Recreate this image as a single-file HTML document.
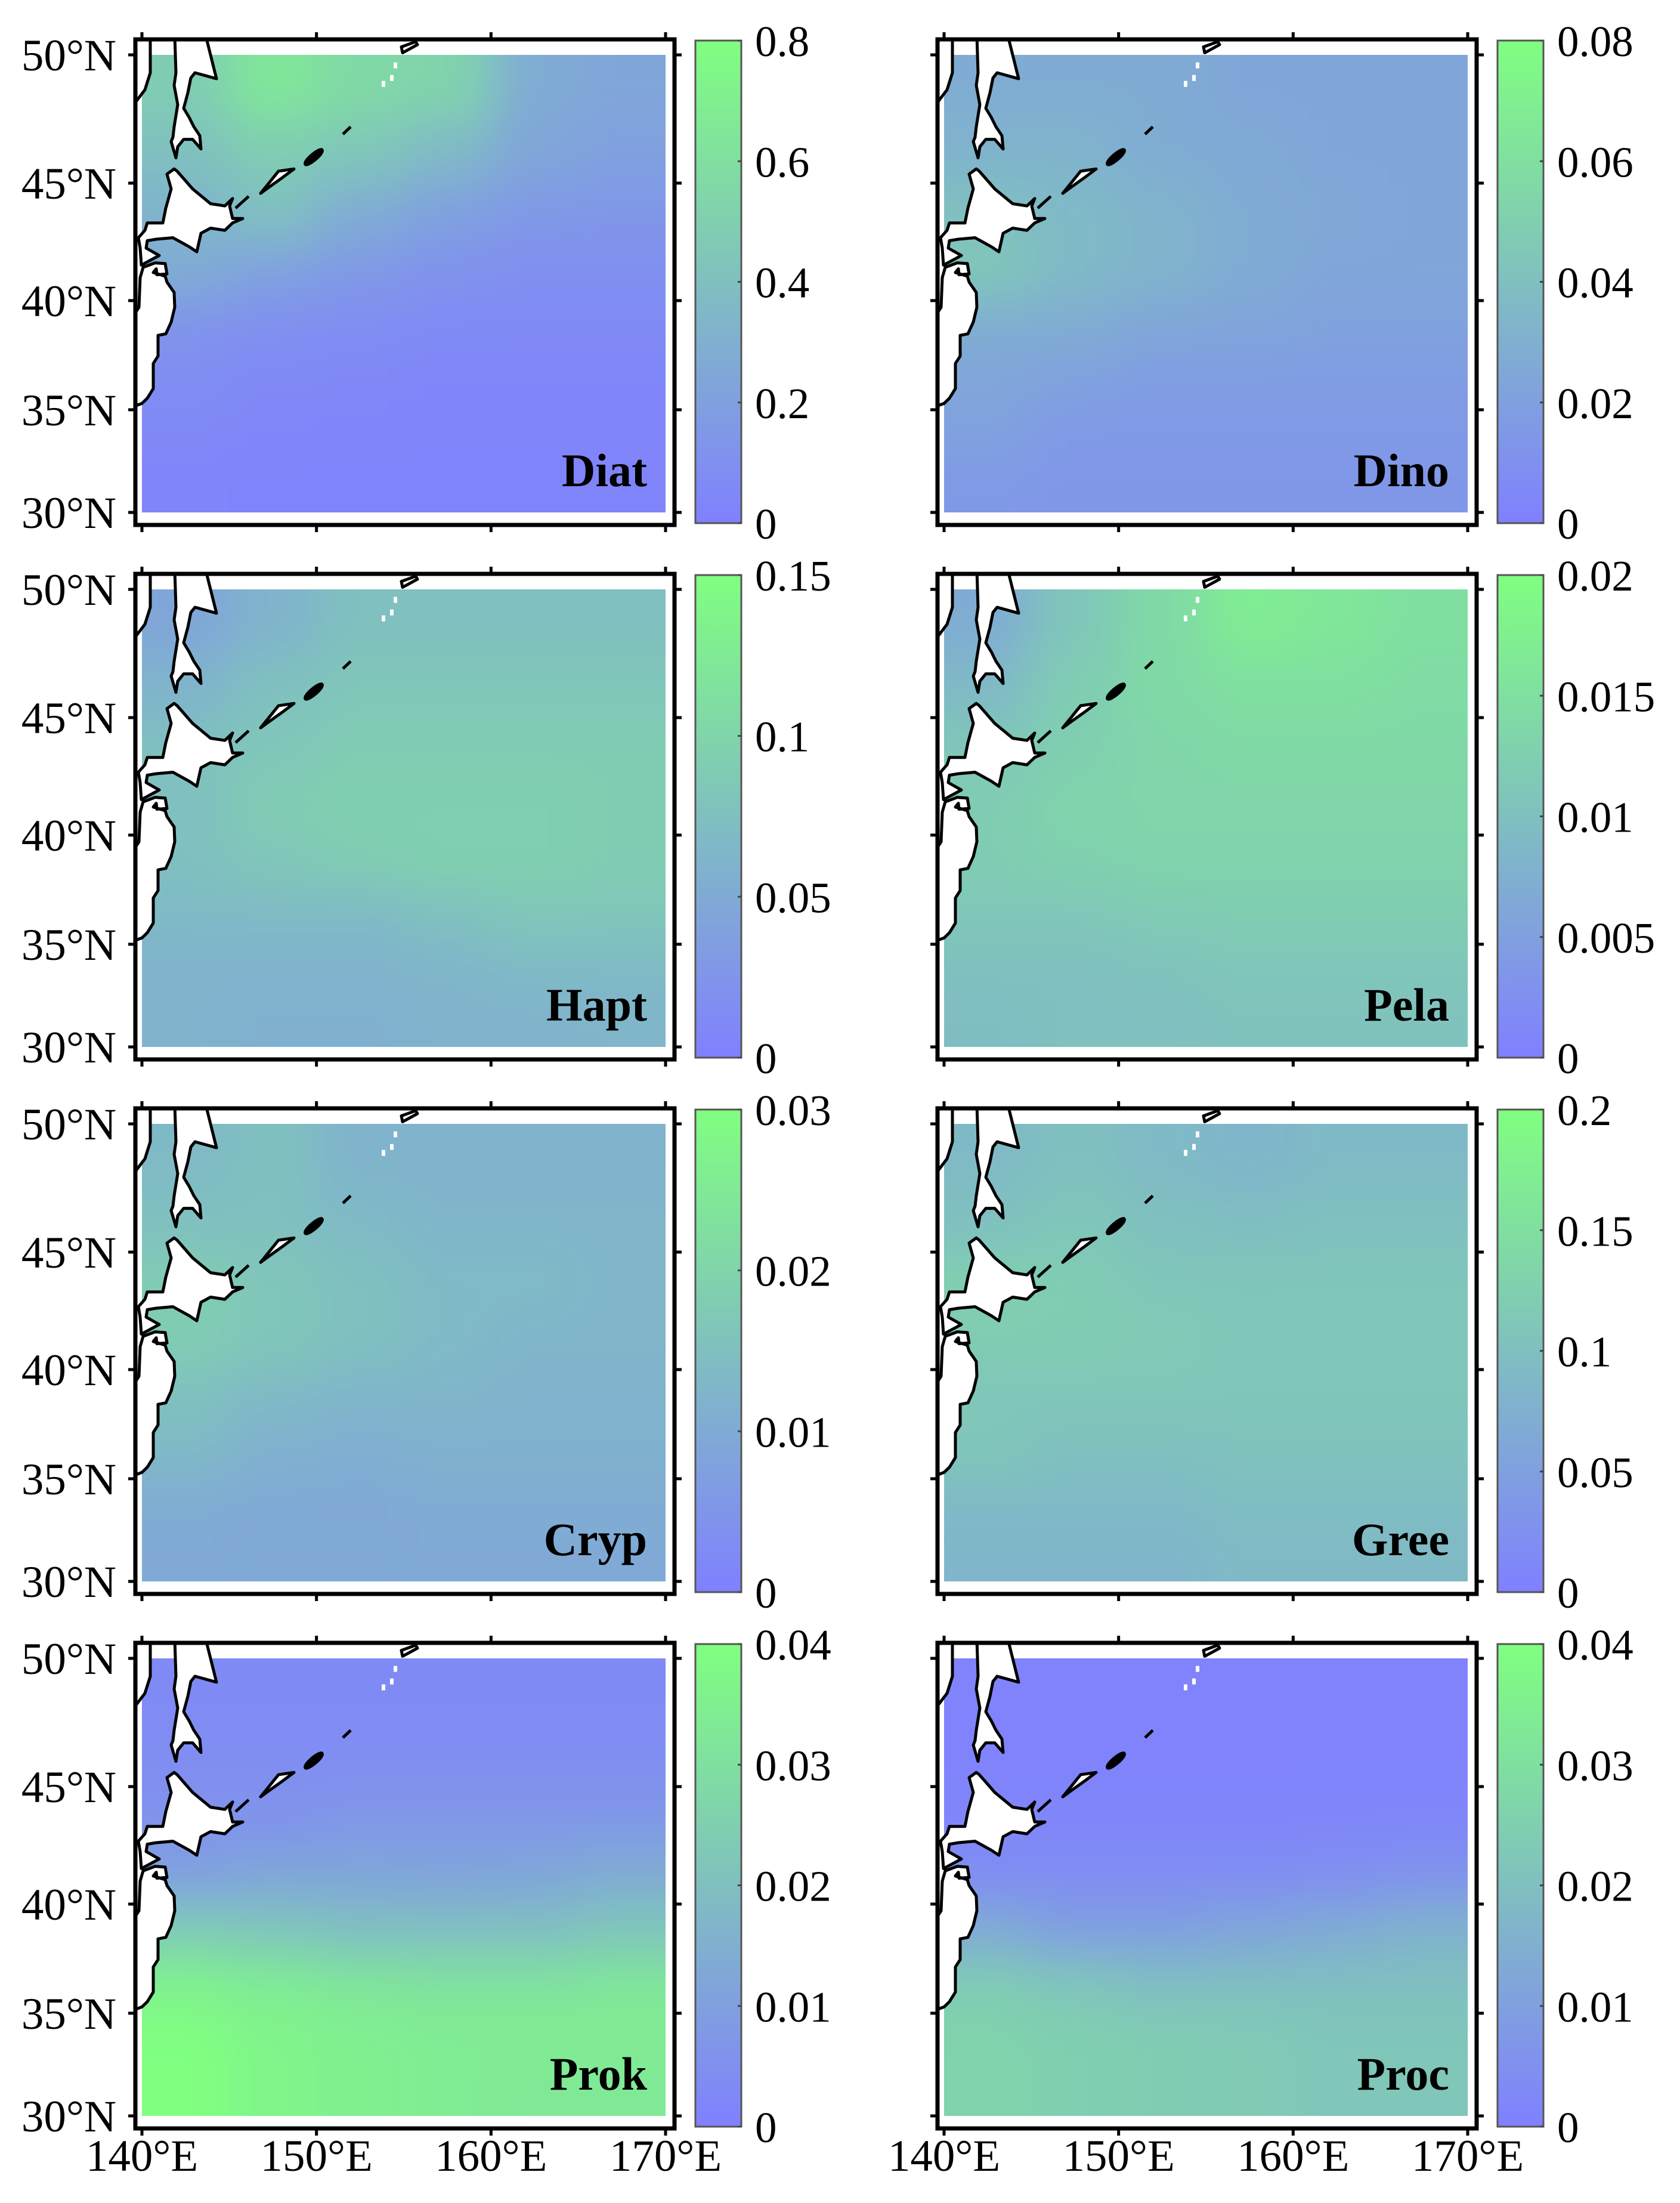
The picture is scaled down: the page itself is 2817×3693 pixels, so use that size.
<!DOCTYPE html>
<html><head><meta charset="utf-8"><style>
html,body{margin:0;padding:0;background:#fff;}
svg{display:block;font-family:"Liberation Serif",serif;}
</style></head><body>
<svg id="fig" width="2817" height="3693" viewBox="0 0 2817 3693" xmlns="http://www.w3.org/2000/svg">
<defs>
<linearGradient id="cmap" x1="0" y1="1" x2="0" y2="0">
<stop offset="0" stop-color="rgb(128,128,255)"/><stop offset="1" stop-color="rgb(128,255,128)"/>
</linearGradient>
<filter id="blur" x="-20%" y="-20%" width="140%" height="140%"><feGaussianBlur stdDeviation="40"/></filter>
<clipPath id="dataClip"><rect x="238" y="92" width="878" height="767"/></clipPath>
<clipPath id="frameClip"><rect x="227" y="66" width="904" height="814"/></clipPath>
</defs>
</svg>
<script>
const panelNames = ["Diat","Dino","Hapt","Pela","Cryp","Gree","Prok","Proc"];
const latEdges = [50,47.5,45,42.5,40,37.5,35,32.5,30];
const lonEdges = [140,145,150,155,160,165,170];
const latTicks = [50,45,40,35,30];
const lonTicks = [140,150,160,170];
const cbTicksDiat = ["0","0.2","0.4","0.6","0.8"];
const cbTicksDino = ["0","0.02","0.04","0.06","0.08"];
const cbTicksHapt = ["0","0.05","0.1","0.15"];
const cbTicksPela = ["0","0.005","0.01","0.015","0.02"];
const cbTicksCryp = ["0","0.01","0.02","0.03"];
const cbTicksGree = ["0","0.05","0.1","0.15","0.2"];
const cbTicksProk = ["0","0.01","0.02","0.03","0.04"];
const cbTicksProc = ["0","0.01","0.02","0.03","0.04"];
// values as fraction of colorbar max; rows north->south, cols west->east
const valDiat = [
[0.6,0.8,0.7,0.65,0.35,0.3],[0.5,0.6,0.55,0.45,0.3,0.25],[0.4,0.5,0.35,0.25,0.2,0.18],[0.35,0.25,0.2,0.15,0.12,0.12],
[0.15,0.12,0.1,0.08,0.08,0.08],[0.1,0.07,0.06,0.05,0.05,0.05],[0.06,0.05,0.04,0.04,0.04,0.04],[0.04,0.03,0.03,0.03,0.03,0.03]];
const valDino = [
[0.35,0.35,0.35,0.3,0.3,0.3],[0.4,0.4,0.35,0.33,0.3,0.3],[0.5,0.45,0.4,0.35,0.32,0.3],[0.55,0.45,0.4,0.35,0.3,0.3],
[0.35,0.35,0.3,0.28,0.27,0.27],[0.3,0.25,0.22,0.22,0.22,0.22],[0.25,0.2,0.2,0.2,0.2,0.2],[0.2,0.18,0.18,0.18,0.18,0.18]];
const valHapt = [
[0.3,0.4,0.5,0.5,0.5,0.5],[0.4,0.5,0.55,0.55,0.55,0.55],[0.5,0.55,0.6,0.6,0.6,0.6],[0.5,0.6,0.62,0.62,0.62,0.6],
[0.5,0.55,0.6,0.62,0.62,0.6],[0.45,0.45,0.45,0.5,0.55,0.55],[0.4,0.4,0.4,0.42,0.45,0.45],[0.4,0.38,0.38,0.4,0.4,0.42]];
const valPela = [
[0.35,0.55,0.7,0.85,0.8,0.75],[0.45,0.6,0.7,0.75,0.75,0.72],[0.55,0.62,0.68,0.7,0.7,0.7],[0.6,0.65,0.67,0.67,0.67,0.67],
[0.6,0.63,0.65,0.65,0.65,0.65],[0.55,0.55,0.58,0.6,0.6,0.6],[0.5,0.5,0.52,0.55,0.55,0.55],[0.48,0.5,0.5,0.52,0.52,0.52]];
const valCryp = [
[0.45,0.5,0.4,0.4,0.4,0.4],[0.5,0.5,0.45,0.42,0.42,0.42],[0.6,0.55,0.5,0.45,0.45,0.42],[0.6,0.55,0.5,0.45,0.42,0.42],
[0.5,0.45,0.42,0.42,0.4,0.4],[0.45,0.38,0.36,0.38,0.38,0.38],[0.35,0.33,0.33,0.35,0.35,0.35],[0.33,0.32,0.32,0.33,0.33,0.33]];
const valGree = [
[0.45,0.5,0.45,0.42,0.45,0.45],[0.5,0.55,0.5,0.48,0.5,0.5],[0.62,0.6,0.55,0.55,0.55,0.55],[0.6,0.6,0.58,0.55,0.55,0.55],
[0.55,0.55,0.55,0.55,0.55,0.55],[0.55,0.5,0.5,0.52,0.52,0.52],[0.45,0.45,0.45,0.48,0.48,0.48],[0.42,0.42,0.42,0.45,0.45,0.45]];
const valProk = [
[0.08,0.08,0.08,0.08,0.08,0.08],[0.1,0.1,0.1,0.1,0.1,0.1],[0.15,0.15,0.18,0.18,0.18,0.18],[0.25,0.3,0.3,0.28,0.3,0.35],
[0.6,0.55,0.5,0.5,0.5,0.55],[0.9,0.85,0.8,0.78,0.78,0.8],[1.0,0.92,0.88,0.85,0.85,0.85],[1.0,0.92,0.88,0.85,0.82,0.82]];
const valProc = [
[0.02,0.02,0.02,0.02,0.02,0.02],[0.02,0.02,0.02,0.02,0.02,0.02],[0.04,0.04,0.04,0.04,0.05,0.05],[0.1,0.1,0.1,0.1,0.12,0.15],
[0.35,0.25,0.25,0.3,0.35,0.4],[0.6,0.55,0.5,0.5,0.5,0.5],[0.65,0.62,0.6,0.58,0.55,0.55],[0.65,0.62,0.6,0.58,0.55,0.55]];

const panelValues = [valDiat,valDino,valHapt,valPela,valCryp,valGree,valProk,valProc];
const panelTicks = [cbTicksDiat,cbTicksDino,cbTicksHapt,cbTicksPela,cbTicksCryp,cbTicksGree,cbTicksProk,cbTicksProc];

const NS="http://www.w3.org/2000/svg";
const svg=document.getElementById('fig');
function mk(tag,attrs,parent){const e=document.createElementNS(NS,tag);for(const k in attrs)e.setAttribute(k,attrs[k]);parent.appendChild(e);return e;}
const X0=238,X1=1116,Y0=92,Y1=859;
function merc(l){return Math.log(Math.tan(Math.PI/4+l*Math.PI/360));}
function xLon(l){return X0+(l-140)/30*(X1-X0);}
function yLat(l){return Y0+(merc(50)-merc(l))/(merc(50)-merc(30))*(Y1-Y0);}
function color(v){v=Math.max(0,Math.min(1,v));return `rgb(128,${Math.round(128+127*v)},${Math.round(255-127*v)})`;}

const landMain=[[227,60],[252,60],[252,110],[243,133],[227,150]];
const landSakh=[[293,60],[345,60],[363,118],[327,110],[320,117],[315,137],[308,158],[317,170],[325,183],[335,195],[337,213],[323,200],[308,200],[298,210],[295,225],[287,203],[290,197],[292,183],[298,153],[292,127],[295,110]];
const landHokk=[[292,240],[280,247],[287,267],[278,293],[273,313],[247,313],[243,323],[232,333],[235,347],[237,370],[267,357],[245,347],[247,337],[262,335],[290,333],[317,345],[330,352],[337,327],[353,320],[377,323],[390,313],[407,307],[390,307],[385,290],[390,280],[377,290],[353,287],[323,267],[297,243]];
const landHons=[[240,373],[260,367],[277,368],[280,382],[263,383],[262,375],[257,380],[277,385],[280,393],[292,407],[293,427],[287,447],[278,463],[265,465],[265,493],[257,503],[257,537],[247,550],[238,557],[228,560],[220,560],[220,443],[233,427],[235,387]];
const landKur=[[437,273],[467,243],[493,240],[473,252],[447,267]];
const landTop=[[673,75],[697,68],[700,72],[675,83]];
function pts(a){return a.map(p=>p.join(',')).join(' ');}

panelNames.forEach((name,i)=>{
  const c=i%2,r=Math.floor(i/2);
  const g=mk('g',{transform:`translate(${c*1345},${r*896})`},svg);
  
  
  const vals=panelValues[i];
  const dg=mk('g',{'clip-path':'url(#dataClip)'},g);
  
  
  mk('rect',{x:X0,y:Y0,width:X1-X0,height:Y1-Y0,fill:color(vals[7][0])},dg);
  const bg=mk('g',{filter:'url(#blur)'},dg);
  for(let ri=0;ri<vals.length;ri++){
    for(let ci=0;ci<vals[ri].length;ci++){
      let x=xLon(lonEdges[ci]),x2=xLon(lonEdges[ci+1]);
      let y=yLat(latEdges[ri]),y2=yLat(latEdges[ri+1]);
      if(ci===0)x-=200; if(ci===vals[ri].length-1)x2+=200;
      if(ri===0)y-=200; if(ri===vals.length-1)y2+=200;
      const cell=mk('rect',{x:x,y:y,width:x2-x+1,height:y2-y+1,fill:color(vals[ri][ci])},bg);
      
      
    }
  }
  const lc=mk('g',{'clip-path':'url(#frameClip)'},g);
  const lg=mk('g',{transform:'translate(0,60) scale(1,1.24) translate(0,-60)',fill:'#fff',stroke:'#000','stroke-width':5,'stroke-linejoin':'round'},lc);
  
  
  [landMain,landSakh,landHokk,landHons,landKur,landTop].forEach(a=>mk('polygon',{points:pts(a),'vector-effect':'non-scaling-stroke'},lg));
  mk('line',{x1:395,y1:293,x2:417,y2:277,stroke:'#000','stroke-width':5,'vector-effect':'non-scaling-stroke'},lg);
  mk('ellipse',{cx:526,cy:224,rx:17,ry:4,transform:'rotate(-33 526 224)',fill:'#000'},lg);
  mk('line',{x1:575,y1:193,x2:588,y2:183,stroke:'#000','stroke-width':5,'vector-effect':'non-scaling-stroke'},lg);
  [[663,100],[657,117],[643,125]].forEach(p=>mk('rect',{x:p[0]-3,y:p[1]-4,width:6,height:8,fill:'#fff',stroke:'none'},lg));
  const fr=mk('rect',{x:227,y:66,width:904,height:814,fill:'none',stroke:'#000','stroke-width':7},g);
  
  
  latTicks.forEach(l=>{const y=yLat(l);
    mk('line',{x1:215,y1:y,x2:227,y2:y,stroke:'#000','stroke-width':5},g);
    mk('line',{x1:1131,y1:y,x2:1143,y2:y,stroke:'#000','stroke-width':5},g);
    if(c===0){const t=mk('text',{x:195,y:y+26,'text-anchor':'end','font-size':75},g);t.textContent=l+'°N';
      
      }
  });
  lonTicks.forEach(l=>{const x=xLon(l);
    mk('line',{x1:x,y1:54,x2:x,y2:66,stroke:'#000','stroke-width':5},g);
    mk('line',{x1:x,y1:880,x2:x,y2:892,stroke:'#000','stroke-width':5},g);
    if(r===3){const t=mk('text',{x:x,y:3639-r*896,'text-anchor':'middle','font-size':75},g);t.textContent=l+'°E';
      
      }
  });
  const lab=mk('text',{x:1085,y:815,'text-anchor':'end','font-size':78,'font-weight':'bold'},g);
  lab.textContent=name;
  
  
  const cb=mk('rect',{x:1166,y:68,width:77,height:809,fill:'url(#cmap)',stroke:'#555','stroke-width':3},g);
  
  
  const tk=panelTicks[i];
  tk.forEach((s,k)=>{const y=877-k*(809/(tk.length-1));
    mk('line',{x1:1237,y1:y,x2:1243,y2:y,stroke:'#444','stroke-width':3},g);
    const t=mk('text',{x:1266,y:y+26,'font-size':73},g);t.textContent=s;
    
    
  });
});
</script>
</body></html>
